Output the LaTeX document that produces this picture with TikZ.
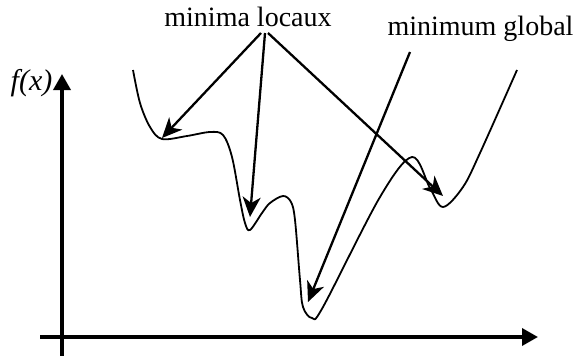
\documentclass[tikz,border=0pt]{standalone}
\usepackage{fontspec}
\setmainfont{Liberation Serif}
\usetikzlibrary{arrows.meta}
\tikzset{
  lbl/.style={font=\fontsize{28}{30}\selectfont, inner sep=0pt},
  axisline/.style={line width=3.5pt, -{Triangle[length=16pt,width=17pt]}},
  pointer/.style={line width=2.3pt, -{Stealth[length=20pt,width=18pt,inset=6pt]}},
  fcurve/.style={line width=1.8pt, line join=round}
}
\begin{document}
\begin{tikzpicture}[x=1pt,y=-1pt]
\useasboundingbox (0,0) rectangle (579,356);
% axes
\coordinate (ybot) at (62,356);
\coordinate (ytop) at (62,74);
\coordinate (xleft) at (40,337);
\coordinate (xright) at (538,337);
\draw[axisline] (ybot) -- (ytop);
\draw[axisline] (xleft) -- (xright);
% labels
\node[lbl, anchor=base, font=\fontsize{30}{32}\selectfont] (fx) at (31.5,90) {\textit{f(x)}};
\node[lbl, anchor=base] (ml) at (248,27) {minima locaux};
\node[lbl, anchor=base] (mg) at (480.5,35) {minimum global};
% curve
\draw[fcurve] plot[smooth, tension=0.55] coordinates {
 (133,70) (140,103) (150,127) (162,139) (187,136) (210,132) (223,135)
 (232,157) (240,200) (245,223) (250,230) (262,213) (270,203) (283,196)
 (291,202) (295,220) (300,280) (303,307) (312,318) (323,307) (380,197)
 (412,157) (430,188) (443,207) (463,187) (480,153) (517,70)};
% pointer ends
\coordinate (s1) at (261,33);
\coordinate (s2) at (265,33);
\coordinate (s3) at (268,33);
\coordinate (sg) at (410,52);
\coordinate (m1) at (162,138);
\coordinate (m2) at (250,217);
\coordinate (m3) at (443,196);
\coordinate (mglob) at (308,302);
\draw[pointer] (s1) -- (m1);
\draw[pointer] (s2) -- (m2);
\draw[pointer] (s3) -- (m3);
\draw[pointer] (sg) -- (mglob);
\end{tikzpicture}
\end{document}
